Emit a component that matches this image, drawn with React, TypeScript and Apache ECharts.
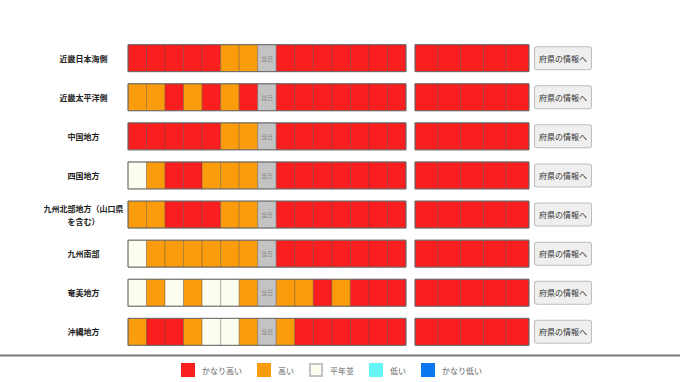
import React, { useEffect, useRef } from "react";
import * as echarts from "echarts";

// Regions (rows)
const regions = [
  "近畿日本海側",
  "近畿太平洋側",
  "中国地方",
  "四国地方",
  "九州北部地方（山口県を含む）",
  "九州南部",
  "奄美地方",
  "沖縄地方",
];

// Level codes: 5 かなり高い, 4 高い, 3 平年並, 2 低い, 1 かなり低い, 0 = 当日 marker
const kinkiJapanSeaDaily = [5, 5, 5, 5, 5, 4, 4, 0, 5, 5, 5, 5, 5, 5, 5];
const kinkiPacificDaily = [4, 4, 5, 4, 5, 4, 5, 0, 5, 5, 5, 5, 5, 5, 5];
const chugokuDaily = [5, 5, 5, 5, 5, 4, 4, 0, 5, 5, 5, 5, 5, 5, 5];
const shikokuDaily = [3, 4, 5, 5, 4, 4, 4, 0, 5, 5, 5, 5, 5, 5, 5];
const kyushuNorthDaily = [4, 4, 5, 5, 5, 4, 4, 0, 5, 5, 5, 5, 5, 5, 5];
const kyushuSouthDaily = [3, 4, 4, 4, 4, 4, 4, 0, 5, 5, 5, 5, 5, 5, 5];
const amamiDaily = [3, 4, 3, 4, 3, 3, 4, 0, 4, 4, 5, 4, 5, 5, 5];
const okinawaDaily = [4, 5, 5, 4, 3, 3, 4, 0, 4, 5, 5, 5, 5, 5, 5];

const kinkiJapanSeaLater = [5, 5, 5, 5, 5];
const kinkiPacificLater = [5, 5, 5, 5, 5];
const chugokuLater = [5, 5, 5, 5, 5];
const shikokuLater = [5, 5, 5, 5, 5];
const kyushuNorthLater = [5, 5, 5, 5, 5];
const kyushuSouthLater = [5, 5, 5, 5, 5];
const amamiLater = [5, 5, 5, 5, 5];
const okinawaLater = [5, 5, 5, 5, 5];

const dailyRows = [
  kinkiJapanSeaDaily,
  kinkiPacificDaily,
  chugokuDaily,
  shikokuDaily,
  kyushuNorthDaily,
  kyushuSouthDaily,
  amamiDaily,
  okinawaDaily,
];
const laterRows = [
  kinkiJapanSeaLater,
  kinkiPacificLater,
  chugokuLater,
  shikokuLater,
  kyushuNorthLater,
  kyushuSouthLater,
  amamiLater,
  okinawaLater,
];

const legendNames = ["かなり高い", "高い", "平年並", "低い", "かなり低い"];
const levelCodes = [5, 4, 3, 2, 1];
const levelColors: Record<number, string> = {
  5: "#fa1e1e",
  4: "#fa9c0c",
  3: "#fdfdf0",
  2: "#66f6f6",
  1: "#0a78f0",
  0: "#c3c3c3",
};
const buttonText = "府県の情報へ";
const todayText = "当日";

const FONT = "'Noto Sans CJK JP', 'Noto Sans', sans-serif";

export default function App() {
  const ref = useRef<HTMLDivElement>(null);

  useEffect(() => {
    if (!ref.current) return;
    const chart = echarts.init(ref.current, undefined, { renderer: "svg" });

    const dailyData: number[][] = [];
    dailyRows.forEach((row, yi) => row.forEach((v, xi) => dailyData.push([xi, yi, v])));
    const laterData: number[][] = [];
    laterRows.forEach((row, yi) => row.forEach((v, xi) => laterData.push([xi, yi, v])));
    const outlineData = regions.map((_, yi) => [0, yi]);

    const cellRender = (params: any, api: any) => {
      const xi = api.value(0);
      const yi = api.value(1);
      const lv = api.value(2);
      const c = api.coord([xi, yi]);
      const s = api.size([1, 1]);
      const h = s[1] * 0.69;
      const rect = {
        type: "rect",
        shape: { x: c[0] - s[0] / 2, y: c[1] - h / 2, width: s[0], height: h },
        style: { fill: levelColors[lv], stroke: "rgba(60,60,60,0.3)", lineWidth: 1 },
      };
      if (lv === 0) {
        return {
          type: "group",
          children: [
            rect,
            {
              type: "text",
              style: {
                text: todayText,
                x: c[0],
                y: c[1],
                align: "center",
                verticalAlign: "middle",
                fontSize: 6,
                fill: "#8a8a8a",
                fontFamily: FONT,
              },
            },
          ],
        };
      }
      return rect;
    };

    const outlineRender = (params: any, api: any) => {
      const yi = api.value(1);
      const c = api.coord([0, yi]);
      const h = api.size([1, 1])[1] * 0.69;
      const cs = params.coordSys;
      return {
        type: "rect",
        shape: { x: cs.x, y: c[1] - h / 2, width: cs.width, height: h },
        style: { fill: "none", stroke: "#6a6a6a", lineWidth: 1 },
      };
    };

    const dayCats15 = dailyRows[0].map((_, i) => String(i));
    const dayCats5 = laterRows[0].map((_, i) => String(i));

    const option: any = {
      animation: false,
      backgroundColor: "#ffffff",
      textStyle: { fontFamily: FONT },
      grid: [
        { left: 128, top: 38.6, width: 278, height: 312.8 },
        { left: 415, top: 38.6, width: 114, height: 312.8 },
      ],
      xAxis: [
        { type: "category", gridIndex: 0, data: dayCats15, show: false },
        { type: "category", gridIndex: 1, data: dayCats5, show: false },
      ],
      yAxis: [
        {
          type: "category",
          gridIndex: 0,
          data: regions,
          inverse: true,
          axisLine: { show: false },
          axisTick: { show: false },
          splitLine: { show: false },
          axisLabel: {
            align: "center",
            margin: 44.5,
            fontSize: 8,
            fontWeight: "bold",
            color: "#222",
            lineHeight: 13,
            fontFamily: FONT,
            formatter: (v: string) => v.replace("山口県", "山口県\n"),
          },
        },
        {
          type: "category",
          gridIndex: 1,
          data: regions,
          inverse: true,
          position: "right",
          axisLine: { show: false },
          axisTick: { show: false },
          splitLine: { show: false },
          axisLabel: {
            margin: 6,
            fontSize: 8,
            color: "#333",
            lineHeight: 9,
            fontFamily: FONT,
            backgroundColor: "#efefef",
            borderColor: "#bdbdbd",
            borderWidth: 1,
            borderRadius: 2,
            padding: [7, 4, 6, 4],
            formatter: () => buttonText,
          },
        },
      ],
      legend: {
        left: 181,
        top: 363,
        padding: 0,
        itemWidth: 12,
        itemHeight: 12,
        itemGap: 15,
        icon: "rect",
        selectedMode: false,
        data: legendNames,
        textStyle: { fontSize: 8, color: "#666", fontFamily: FONT, padding: [0, 0, 0, 3] },
      },
      graphic: [
        {
          type: "line",
          shape: { x1: 0, y1: 355.5, x2: 680, y2: 355.5 },
          style: { stroke: "#7c7c7c", lineWidth: 2 },
          silent: true,
        },
      ],
      series: [
        {
          type: "custom",
          xAxisIndex: 0,
          yAxisIndex: 0,
          data: dailyData,
          renderItem: cellRender,
          silent: true,
        },
        {
          type: "custom",
          xAxisIndex: 0,
          yAxisIndex: 0,
          data: outlineData,
          renderItem: outlineRender,
          silent: true,
        },
        {
          type: "custom",
          xAxisIndex: 1,
          yAxisIndex: 1,
          data: laterData,
          renderItem: cellRender,
          silent: true,
        },
        {
          type: "custom",
          xAxisIndex: 1,
          yAxisIndex: 1,
          data: outlineData,
          renderItem: outlineRender,
          silent: true,
        },
        ...legendNames.map((name, i) => ({
          name,
          type: "bar",
          xAxisIndex: 0,
          yAxisIndex: 0,
          data: [],
          itemStyle: {
            color: levelColors[levelCodes[i]],
            borderColor: levelCodes[i] === 3 ? "#c4c4c4" : levelColors[levelCodes[i]],
            borderWidth: 1,
          },
        })),
      ],
    };

    chart.setOption(option);
    return () => chart.dispose();
  }, []);

  return (
    <div
      ref={ref}
      style={{ position: "fixed", left: 0, top: 0, width: 680, height: 382 }}
    />
  );
}
